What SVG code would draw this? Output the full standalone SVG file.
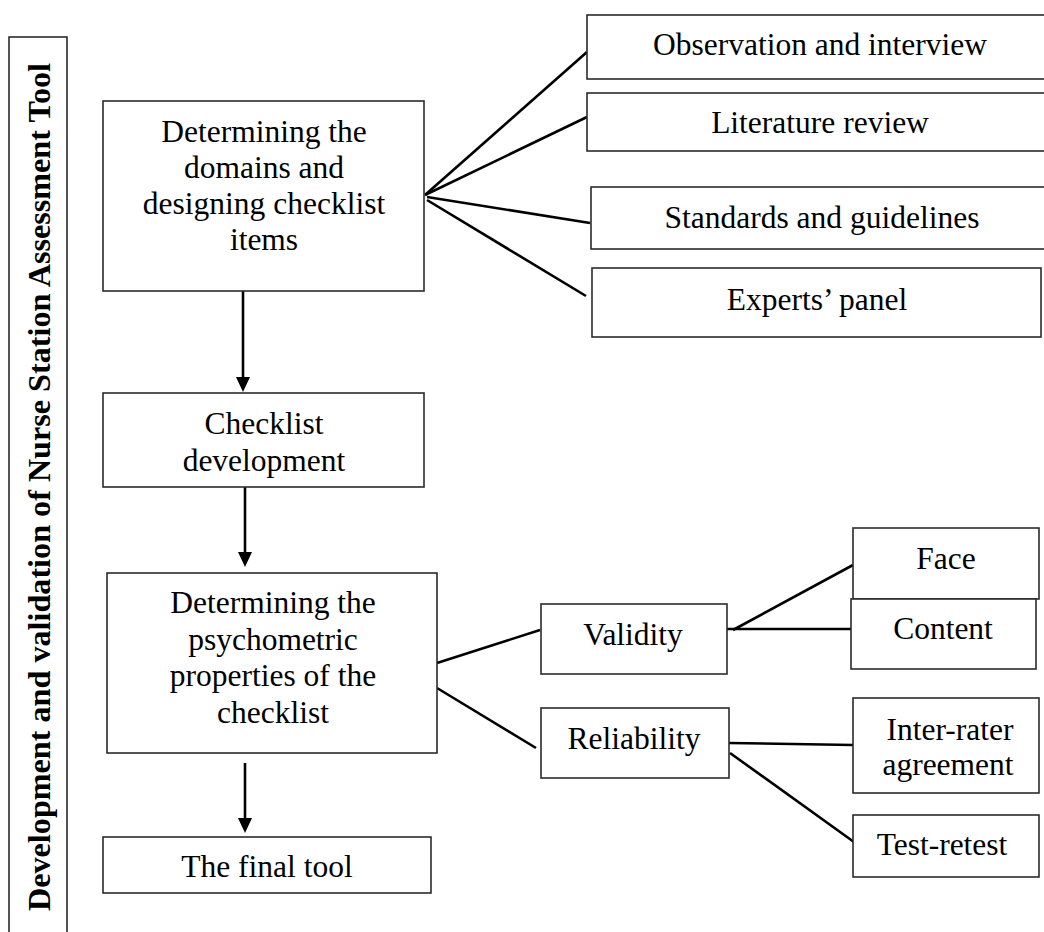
<svg xmlns="http://www.w3.org/2000/svg" width="1044" height="932" viewBox="0 0 1044 932">
  <style>
    .box { fill: #ffffff; stroke: #2b2b2b; stroke-width: 1.6; }
    .lbl { font-family: "Liberation Serif", "Times New Roman", serif; font-size: 31.5px; fill: #000; text-anchor: middle; }
    .title { font-family: "Liberation Serif", "Times New Roman", serif; font-size: 32px; font-weight: bold; fill: #000; text-anchor: middle; }
    .conn { stroke: #000; stroke-width: 2.6; fill: none; }
  </style>
  <defs>
    <marker id="arrow" markerUnits="userSpaceOnUse" markerWidth="16" markerHeight="16" refX="7" refY="7" orient="auto">
      <path d="M0,0 L15,7 L0,14 z" fill="#000"/>
    </marker>
  </defs>
  <rect width="1044" height="932" fill="#ffffff"/>

  <g id="title-bar">
    <rect class="box" x="9" y="37" width="58" height="910"/>
    <text class="title" transform="translate(50,487) rotate(-90)" textLength="848" lengthAdjust="spacingAndGlyphs">Development and validation of Nurse Station Assessment Tool</text>
  </g>

  <g id="connectors">
    <line class="conn" x1="243" y1="291" x2="243" y2="384" marker-end="url(#arrow)"/>
    <line class="conn" x1="245" y1="487" x2="245" y2="559" marker-end="url(#arrow)"/>
    <line class="conn" x1="245" y1="763" x2="245" y2="825" marker-end="url(#arrow)"/>
    <line class="conn" x1="425" y1="195" x2="587" y2="52"/>
    <line class="conn" x1="425" y1="195" x2="587" y2="117"/>
    <line class="conn" x1="427" y1="197" x2="590" y2="223"/>
    <line class="conn" x1="427" y1="200" x2="586" y2="296"/>
    <line class="conn" x1="437" y1="663" x2="540" y2="630"/>
    <line class="conn" x1="437" y1="688" x2="536" y2="748"/>
    <line class="conn" x1="733" y1="630" x2="853" y2="565"/>
    <line class="conn" x1="727" y1="629" x2="851" y2="629"/>
    <line class="conn" x1="729" y1="743" x2="853" y2="745"/>
    <line class="conn" x1="730" y1="753" x2="854" y2="842"/>
  </g>

  <g id="node-domains">
    <rect class="box" x="103" y="101" width="321" height="190"/>
    <text class="lbl" x="264" y="142">Determining the</text>
    <text class="lbl" x="264" y="178">domains and</text>
    <text class="lbl" x="264" y="214">designing checklist</text>
    <text class="lbl" x="264" y="250">items</text>
  </g>

  <g id="node-checklist-dev">
    <rect class="box" x="103" y="393" width="321" height="94"/>
    <text class="lbl" x="264" y="434">Checklist</text>
    <text class="lbl" x="264" y="471">development</text>
  </g>

  <g id="node-psychometric">
    <rect class="box" x="107" y="573" width="330" height="180"/>
    <text class="lbl" x="273" y="613">Determining the</text>
    <text class="lbl" x="273" y="649.5">psychometric</text>
    <text class="lbl" x="273" y="686">properties of the</text>
    <text class="lbl" x="273" y="723">checklist</text>
  </g>

  <g id="node-final">
    <rect class="box" x="103" y="837" width="328" height="56"/>
    <text class="lbl" x="267" y="877">The final tool</text>
  </g>

  <g id="node-observation">
    <rect class="box" x="587" y="15" width="470" height="64"/>
    <text class="lbl" x="820" y="55">Observation and interview</text>
  </g>

  <g id="node-literature">
    <rect class="box" x="587" y="93" width="470" height="58"/>
    <text class="lbl" x="820" y="133">Literature review</text>
  </g>

  <g id="node-standards">
    <rect class="box" x="591" y="187" width="466" height="62"/>
    <text class="lbl" x="822" y="228">Standards and guidelines</text>
  </g>

  <g id="node-experts">
    <rect class="box" x="592" y="268" width="449" height="69"/>
    <text class="lbl" x="817" y="310">Experts’ panel</text>
  </g>

  <g id="node-validity">
    <rect class="box" x="541" y="604" width="186" height="70"/>
    <text class="lbl" x="633" y="645">Validity</text>
  </g>

  <g id="node-reliability">
    <rect class="box" x="541" y="708" width="188" height="70"/>
    <text class="lbl" x="634" y="749">Reliability</text>
  </g>

  <g id="node-face">
    <rect class="box" x="853" y="528" width="186" height="71"/>
    <text class="lbl" x="946" y="569">Face</text>
  </g>

  <g id="node-content">
    <rect class="box" x="851" y="599" width="185" height="70"/>
    <text class="lbl" x="943" y="639">Content</text>
  </g>

  <g id="node-interrater">
    <rect class="box" x="853" y="698" width="186" height="95"/>
    <text class="lbl" x="950" y="740">Inter-rater</text>
    <text class="lbl" x="948" y="775">agreement</text>
  </g>

  <g id="node-testretest">
    <rect class="box" x="853" y="815" width="186" height="62"/>
    <text class="lbl" x="942" y="855">Test-retest</text>
  </g>
</svg>
